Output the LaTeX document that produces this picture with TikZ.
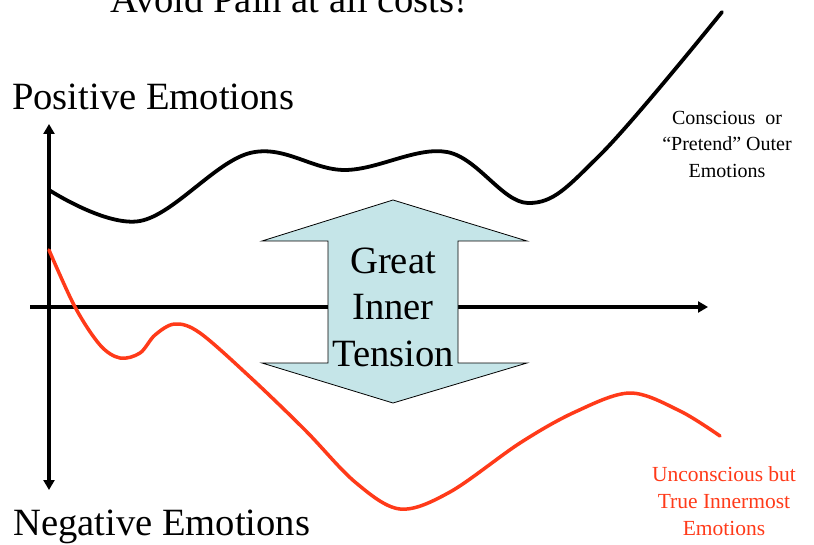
\documentclass[tikz,border=0pt]{standalone}
\usepackage{fontspec}
\setmainfont{Liberation Serif}
\usetikzlibrary{arrows.meta}
\definecolor{painred}{RGB}{255,58,25}
\definecolor{tensionblue}{RGB}{197,229,232}

\begin{document}
\begin{tikzpicture}[x=1pt,y=-1pt,
    axis/.style={line width=3.2pt,-{Triangle[length=10pt,width=11pt]}},
    curve/.style={line width=3.8pt,line cap=round,line join=round},
    bigtext/.style={font=\fontsize{38.6}{46.5}\selectfont,inner sep=0pt},
    smalltext/.style={font=\fontsize{20}{26.5}\selectfont,align=center,inner sep=0pt}]
    \useasboundingbox (0,0) rectangle (814,545);
    \clip (0,0) rectangle (814,545);
    % axes
    \coordinate (origin) at (49,307);
    \coordinate (ytop) at (49,124);
    \coordinate (ybot) at (49,490);
    \coordinate (xleft) at (30,307);
    \coordinate (xright) at (708,307);
    \draw[axis] (origin) -- (ytop);
    \draw[axis] (origin) -- (ybot);
    \draw[axis] (xleft) -- (xright);
    \node[bigtext,anchor=base west] (title) at (110,13) {Avoid Pain at all costs!};
    \node[bigtext,anchor=base west] (pos) at (12,110) {Positive Emotions};
    \node[bigtext,anchor=base west] (neg) at (13,535) {Negative Emotions};
    % outer emotions
    \draw[curve] plot[smooth,tension=0.6] coordinates {(49,190) (140,221) (250,153) (345,170) (447,152) (528,203) (600,155) (722,12)};
    % inner emotions
    \draw[curve,painred,line width=3.5pt] plot[smooth,tension=0.55] coordinates {(49,250) (75,307) (100,345) (120,358) (140,353) (155,335) (175,324) (200,333) (250,377) (305,430) (355,482) (400,509) (450,492) (520,443) (575,412) (630,393) (680,411) (720,436)};
    % tension arrow
    \filldraw[fill=tensionblue,draw=black,line width=0.8pt] (393,200) -- (527,241) -- (458,241) -- (458,363) -- (527,363) -- (393,403) -- (262,363) -- (328,363) -- (328,241) -- (262,241) -- cycle;
    \node[bigtext,align=center] (tension) at (393,307) {Great\\Inner\\Tension};
    \node[smalltext] (outer) at (727,144) {Conscious\ \ or\\``Pretend'' Outer\\Emotions};
    \node[smalltext,text=painred,font=\fontsize{21.5}{27}\selectfont] (inner) at (724,501) {Unconscious but\\True Innermost\\Emotions};
\end{tikzpicture}
\end{document}
